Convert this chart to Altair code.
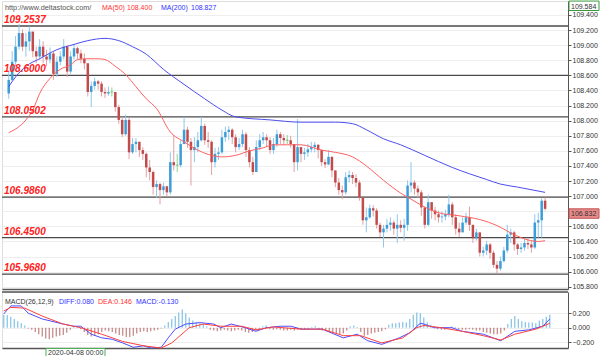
import altair as alt
import pandas as pd

# ---------------- data ----------------
first_open = 108.36
close = [
    108.54, 108.78, 108.98, 109.16, 108.98, 109.05, 109.18, 108.92, 108.85, 108.98,
    108.85, 108.81, 108.89, 108.62, 108.78, 108.85, 108.98, 108.65, 108.85, 108.96,
    108.89, 108.82, 108.76, 108.38, 108.46, 108.52, 108.49, 108.38, 108.36, 108.38,
    108.38, 108.18, 108.01, 107.82, 108.01, 107.58, 107.69, 107.72, 107.61, 107.56,
    107.38, 107.32, 107.12, 107.16, 107.08, 107.13, 107.05, 107.45, 107.41, 107.41,
    107.69, 107.88, 107.72, 107.61, 107.65, 107.74, 107.93, 107.74, 107.72, 107.45,
    107.56, 107.58, 107.78, 107.85, 107.88, 107.78, 107.65, 107.69, 107.82, 107.61,
    107.45, 107.32, 107.65, 107.74, 107.78, 107.74, 107.61, 107.69, 107.82, 107.77,
    107.74, 107.74, 107.69, 107.45, 107.65, 107.56, 107.58, 107.62, 107.65, 107.68,
    107.61, 107.45, 107.42, 107.52, 107.34, 107.18, 107.08, 107.05, 107.25, 107.28,
    107.24, 107.18, 106.98, 106.68, 106.72, 106.84, 106.81, 106.62, 106.52, 106.57,
    106.62, 106.65, 106.57, 106.62, 106.58, 106.62, 107.14, 107.18, 107.10, 107.05,
    106.85, 106.62, 106.92, 106.81, 106.76, 106.72, 106.73, 106.76, 106.89, 106.72,
    106.57, 106.52, 106.65, 106.72, 106.62, 106.44, 106.52, 106.25, 106.28, 106.36,
    106.25, 106.09, 106.04, 106.14, 106.28, 106.49, 106.52, 106.36, 106.30, 106.32,
    106.38, 106.36, 106.32, 106.65, 106.68, 106.94, 106.832]
high = [
    108.65, 108.92, 109.12, 109.28, 109.21, 109.16, 109.25, 109.16, 108.98, 109.08,
    109.05, 108.94, 108.97, 108.92, 108.85, 108.92, 109.08, 109.00, 108.92, 109.01,
    108.98, 108.94, 108.89, 108.76, 108.52, 108.57, 108.54, 108.52, 108.44, 108.45,
    108.44, 108.36, 108.21, 108.05, 108.08, 108.04, 107.77, 107.77, 107.72, 107.65,
    107.58, 107.48, 107.34, 107.21, 107.18, 107.18, 107.14, 107.58, 107.81, 107.56,
    107.74, 108.05, 107.92, 107.77, 107.78, 107.85, 108.05, 107.96, 107.85, 107.74,
    107.64, 107.65, 107.88, 107.92, 107.93, 107.90, 107.82, 107.77, 107.88, 107.85,
    107.65, 107.52, 107.74, 107.82, 107.85, 107.82, 107.78, 107.77, 107.88, 107.85,
    107.82, 107.81, 107.80, 107.69, 108.02, 107.65, 107.64, 107.69, 107.72, 107.72,
    107.69, 107.62, 107.49, 107.61, 107.53, 107.34, 107.24, 107.14, 107.32, 107.34,
    107.32, 107.29, 107.21, 106.98, 106.85, 106.89, 106.88, 106.84, 106.65, 106.62,
    106.70, 106.72, 106.68, 106.76, 106.68, 106.70, 107.21, 107.45, 107.21, 107.14,
    107.08, 106.86, 107.02, 106.92, 106.86, 106.81, 106.80, 106.82, 107.02, 106.92,
    106.76, 106.65, 106.72, 106.78, 106.86, 106.62, 106.57, 106.52, 106.33, 106.41,
    106.38, 106.28, 106.14, 106.20, 106.33, 106.62, 106.57, 106.54, 106.38, 106.38,
    106.44, 106.44, 106.41, 106.76, 106.78, 106.97, 106.98]
low = [
    108.29, 108.52, 108.72, 108.94, 108.92, 108.85, 108.92, 108.84, 108.76, 108.81,
    108.76, 108.72, 108.76, 108.54, 108.58, 108.73, 108.81, 108.58, 108.62, 108.81,
    108.81, 108.76, 108.68, 108.32, 108.18, 108.41, 108.41, 108.32, 108.30, 108.33,
    108.32, 108.12, 107.96, 107.78, 107.80, 107.49, 107.56, 107.58, 107.52, 107.48,
    107.25, 107.21, 107.02, 106.98, 106.89, 107.02, 107.00, 107.02, 107.34, 107.32,
    107.38, 107.69, 107.64, 107.14, 107.45, 107.58, 107.72, 107.68, 107.64, 107.28,
    107.38, 107.48, 107.56, 107.72, 107.74, 107.69, 107.58, 107.61, 107.65, 107.52,
    107.38, 107.28, 107.32, 107.61, 107.69, 107.65, 107.56, 107.56, 107.65, 107.69,
    107.68, 107.69, 107.64, 107.32, 107.34, 107.45, 107.48, 107.52, 107.58, 107.58,
    107.50, 107.40, 107.37, 107.41, 107.25, 107.12, 107.02, 106.96, 107.02, 107.18,
    107.16, 107.12, 106.94, 106.62, 106.52, 106.70, 106.73, 106.57, 106.46, 106.32,
    106.52, 106.54, 106.49, 106.38, 106.52, 106.41, 106.54, 107.05, 107.02, 106.98,
    106.74, 106.57, 106.60, 106.70, 106.68, 106.65, 106.65, 106.68, 106.72, 106.62,
    106.49, 106.46, 106.54, 106.62, 106.54, 106.38, 106.41, 106.20, 106.20, 106.22,
    106.17, 106.05, 105.98, 106.01, 106.12, 106.25, 106.38, 106.28, 106.22, 106.25,
    106.28, 106.30, 106.25, 106.30, 106.45, 106.45, 106.81]

ma50_i = [0, 5, 7, 9, 12, 15, 18, 20, 23, 26, 28, 31, 34, 37, 40, 43, 47, 51, 55, 59,
          62, 66, 70, 74, 77, 81, 85, 91, 95, 100, 104, 109, 114, 117, 120, 125, 131,
          137, 142, 147, 151, 154, 156]
ma50_v = [107.84, 108.01, 108.14, 108.36, 108.56, 108.68, 108.74, 108.81, 108.82, 108.82,
          108.81, 108.72, 108.61, 108.45, 108.29, 108.16, 107.85, 107.72, 107.61, 107.54,
          107.52, 107.54, 107.60, 107.64, 107.68, 107.68, 107.68, 107.61, 107.58, 107.52,
          107.40, 107.21, 107.04, 106.96, 106.88, 106.78, 106.74, 106.69, 106.61, 106.49,
          106.42, 106.40, 106.41]
ma200_i = [0, 2, 5, 9, 14, 19, 23, 28, 32, 36, 40, 45, 51, 57, 62, 66, 76, 85, 95, 100,
           104, 109, 114, 121, 129, 139, 143, 148, 156]
ma200_v = [108.45, 108.58, 108.72, 108.82, 108.94, 109.01, 109.06, 109.09, 109.06, 108.98,
           108.88, 108.68, 108.48, 108.29, 108.14, 108.05, 108.01, 107.98, 107.98, 107.96,
           107.88, 107.76, 107.68, 107.54, 107.38, 107.22, 107.16, 107.12, 107.05]

levels = [109.2537, 108.6000, 108.0502, 106.9860, 106.4500, 105.9680]
level_labels = ["109.2537", "108.6000", "108.0502", "106.9860", "106.4500", "105.9680"]
y_ticks = [105.8, 106.0, 106.2, 106.4, 106.6, 106.8, 107.0, 107.2, 107.4, 107.6,
           107.8, 108.0, 108.2, 108.4, 108.6, 108.8, 109.0, 109.2, 109.4]
last_price = 106.832
top_price = 109.584

hist = [0.18, 0.17, 0.15, 0.12, 0.09, 0.06, 0.03, -0.01, -0.03, -0.06,
        -0.09, -0.12, -0.15, -0.16, -0.14, -0.12, -0.11, -0.10, -0.07, -0.03,
        0.02, 0.02, -0.02, -0.06, -0.10, -0.12, -0.11, -0.09, -0.06, -0.04,
        -0.05, -0.06, -0.08, -0.10, -0.11, -0.13, -0.13, -0.11, -0.08, -0.06,
        -0.05, -0.06, -0.05, -0.04, -0.03, -0.01, 0.03, 0.08, 0.12, 0.16,
        0.21, 0.25, 0.20, 0.14, 0.10, 0.07, 0.06, 0.05, 0.02, -0.03,
        -0.04, -0.05, -0.04, -0.03, -0.04, -0.05, -0.04, -0.03, -0.04, -0.06,
        -0.07, -0.06, -0.04, -0.02, 0.02, 0.03, -0.02, -0.03, -0.02, -0.03,
        -0.04, -0.04, -0.03, -0.04, -0.03, -0.03, -0.02, -0.02, 0.01, 0.02,
        -0.02, -0.04, -0.05, -0.06, -0.07, -0.08, -0.09, -0.08, -0.04, 0.02,
        0.03, 0.01, -0.06, -0.11, -0.10, -0.08, -0.07, -0.06, -0.05, -0.02,
        0.04, 0.06, 0.06, 0.07, 0.08, 0.07, 0.12, 0.18, 0.21, 0.20,
        0.14, 0.07, 0.04, 0.01, -0.02, -0.03, -0.03, -0.01, 0.02, 0.01,
        -0.02, -0.03, -0.03, -0.02, -0.03, -0.04, -0.04, -0.06, -0.07, -0.08,
        -0.09, -0.09, -0.08, -0.04, 0.05, 0.12, 0.16, 0.12, 0.09, 0.08,
        0.07, 0.07, 0.06, 0.10, 0.12, 0.15, 0.18]
diff_i = [0, 2, 5, 7, 11, 17, 20, 22, 25, 28, 31, 34, 37, 40, 42, 45, 47, 49, 52, 56,
          60, 62, 65, 69, 72, 75, 79, 82, 85, 91, 97, 101, 104, 108, 113, 116, 119, 120,
          123, 128, 131, 137, 142, 146, 150, 154, 156]
diff_v = [0.19, 0.30, 0.30, 0.20, 0.12, 0.05, 0.02, 0.02, -0.09, -0.14,
          -0.16, -0.21, -0.27, -0.25, -0.28, -0.27, -0.14, -0.02, 0.05, 0.07,
          0.05, 0.0, 0.05, 0.0, -0.05, 0.0, 0.02, 0.02, -0.02, -0.02,
          -0.14, -0.09, -0.18, -0.23, -0.14, -0.07, 0.06, 0.05, 0.0, 0.0,
          -0.05, -0.09, -0.18, -0.05, -0.03, 0.02, 0.12]
dea_i = [0, 2, 6, 11, 17, 22, 28, 34, 40, 45, 48, 53, 57, 62, 68, 72, 77, 85, 91, 97,
         102, 108, 114, 118, 120, 125, 131, 137, 142, 146, 152, 156]
dea_v = [0.23, 0.28, 0.27, 0.16, 0.05, 0.0, -0.09, -0.19, -0.25, -0.28,
         -0.21, 0.0, 0.05, 0.02, 0.02, -0.03, 0.01, -0.02, -0.02, -0.11,
         -0.11, -0.21, -0.14, 0.0, 0.03, 0.0, -0.05, -0.11, -0.17, -0.09,
         -0.02, 0.06]
macd_ticks = [-0.2, 0.0, 0.2]

# ---------------- tables ----------------
n = len(close)
opens = [first_open] + close[:-1]
dirs = ["up" if c > o else ("down" if c < o else "flat") for o, c in zip(opens, close)]
candles = pd.DataFrame({"i": list(range(n)), "open": opens, "close": close,
                        "high": high, "low": low, "dir": dirs})
ma50 = pd.DataFrame({"i": ma50_i, "v": ma50_v})
ma200 = pd.DataFrame({"i": ma200_i, "v": ma200_v})
lv = pd.DataFrame({"level": levels, "label": level_labels})
hdf = pd.DataFrame({"i": list(range(n)), "h": hist, "zero": [0.0] * n})
diff_df = pd.DataFrame({"i": diff_i, "v": diff_v})
dea_df = pd.DataFrame({"i": dea_i, "v": dea_v})

W, H, HM = 566, 288, 56
FONT = "Liberation Sans"
xs = alt.Scale(domain=[-0.5, 161.2], nice=False, zero=False)
ys = alt.Scale(domain=[105.77, 109.585], nice=False, zero=False)
ms = alt.Scale(domain=[-0.28, 0.492], nice=False, zero=False)

xaxis = alt.Axis(labels=False, ticks=False, grid=False, title=None,
                 domainColor="#555", domainWidth=1.5)
# the 106.800 label sits under the current-price box in the reference
yaxis = alt.Axis(orient="right", values=y_ticks, format=".3f", title=None, labelFontSize=7,
                 labelColor="#333", tickSize=3, tickColor="#555", domainColor="#555",
                 grid=True, gridColor="#eeeeee", labelPadding=1, labelFont=FONT,
                 labelExpr="abs(datum.value - 106.8) < 0.001 ? '' : format(datum.value, '.3f')")
maxis = alt.Axis(orient="right", values=macd_ticks, format=".3f", title=None, labelFontSize=7,
                 labelColor="#333", tickSize=3, tickColor="#555", domainColor="#555",
                 grid=True, gridColor="#eeeeee", labelPadding=1, labelFont=FONT)


def X():
    return alt.X("i:Q", scale=xs, axis=xaxis)


def Y(field):
    return alt.Y(field, type="quantitative", scale=ys, axis=yaxis)


def M(field):
    return alt.Y(field, type="quantitative", scale=ms, axis=maxis)


COL = {"up": ("#3d9dd8", "#8ec8ee"), "down": ("#c24a4a", "#e3a0a0"), "flat": ("#55b055", "#8fd48f")}

# ---------------- main panel ----------------
layers = []
layers.append(alt.Chart(lv).mark_rule(color="#4a4a4a", strokeWidth=1.3).encode(y=Y("level")))
for d in ["up", "down", "flat"]:
    layers.append(alt.Chart(candles).transform_filter(f"datum.dir == '{d}'").mark_rule(
        strokeWidth=1, color=COL[d][1]).encode(x=X(), y=Y("low"), y2="high"))
for d in ["up", "down"]:
    layers.append(alt.Chart(candles).transform_filter(f"datum.dir == '{d}'").mark_bar(
        size=2.5, color=COL[d][0]).encode(x=X(), y=Y("open"), y2="close"))
layers.append(alt.Chart(candles).transform_filter("datum.dir == 'flat'").mark_tick(
    thickness=1, size=3, orient="horizontal", color=COL["flat"][0]).encode(x=X(), y=Y("close")))
layers.append(alt.Chart(ma50).mark_line(color="#ff6060", strokeWidth=1, interpolate="monotone").encode(
    x=X(), y=Y("v")))
layers.append(alt.Chart(ma200).mark_line(color="#4c4cf0", strokeWidth=1, interpolate="monotone").encode(
    x=X(), y=Y("v")))
layers.append(alt.Chart(lv).mark_text(
    align="left", baseline="alphabetic", dy=-3, fontSize=10, fontStyle="italic",
    fontWeight="bold", color="#ff2020", font=FONT).encode(
    x=alt.value(2), y=Y("level"), text="label:N"))


def label(txt, px, py, color, size=7):
    return alt.Chart(pd.DataFrame({"t": [txt]})).mark_text(
        align="left", baseline="alphabetic", fontSize=size, color=color, font=FONT).encode(
        x=alt.value(px), y=alt.value(py), text="t:N")


layers += [label("http://www.deltastock.com/", 3, 9, "#555555", 7.3),
           label("MA(50)", 100, 9, "#ff3030"), label("108.400", 125, 9, "#ff3030"),
           label("MA(200)", 159, 9, "#3030ff"), label("108.827", 189, 9, "#3030ff")]

for p, t, fill, stroke in [(top_price, "109.584", "#ffffff", "#3a9a3a"),
                           (last_price, "106.832", "#e98a8a", "#c05050")]:
    bdf = pd.DataFrame({"p": [p], "p2": [p - 0.125], "t": [t]})
    layers.append(alt.Chart(bdf).mark_rect(fill=fill, stroke=stroke, strokeWidth=1).encode(
        x=alt.value(567), x2=alt.value(597), y=Y("p"), y2="p2"))
    layers.append(alt.Chart(bdf).mark_text(align="left", baseline="top", dy=1.5, fontSize=7,
                                           color="#333", font=FONT).encode(
        x=alt.value(569), y=Y("p"), text="t:N"))

main = alt.layer(*layers).properties(width=W, height=H)

# ---------------- MACD panel ----------------
mlayers = []
mlayers.append(alt.Chart(hdf).transform_filter("datum.h >= 0").mark_rule(
    strokeWidth=1.2, color="#80c0e6").encode(x=X(), y=M("h"), y2="zero"))
mlayers.append(alt.Chart(hdf).transform_filter("datum.h < 0").mark_rule(
    strokeWidth=1.2, color="#c48080").encode(x=X(), y=M("h"), y2="zero"))
mlayers.append(alt.Chart(diff_df).mark_line(color="#4c4cff", strokeWidth=1).encode(x=X(), y=M("v")))
mlayers.append(alt.Chart(dea_df).mark_line(color="#ff4040", strokeWidth=1).encode(x=X(), y=M("v")))
mlayers.append(alt.Chart(pd.DataFrame({"a": [0]})).mark_rule(color="#555", strokeWidth=1.5).encode(
    x=alt.value(0), x2=alt.value(W), y=alt.value(0)))
mlayers += [label("MACD(26,12,9)", 3, 12, "#333333"), label("DIFF:0.080", 57, 12, "#3030ff"),
            label("DEA:0.146", 96, 12, "#ff3030"), label("MACD:-0.130", 134, 12, "#3030ff")]
mlayers.append(alt.Chart(pd.DataFrame({"a": [0]})).mark_rect(
    fill="#ffffff", stroke="#4caf50", strokeWidth=1).encode(
    x=alt.value(44), x2=alt.value(103), y=alt.value(56.5), y2=alt.value(65)))
mlayers.append(label("2020-04-08 00:00", 46, 63, "#333333"))

macd = alt.layer(*mlayers).properties(width=W, height=HM)

chart = alt.vconcat(main, macd, spacing=3, bounds="flush").properties(
    padding=0, background="white").configure_view(stroke=None).configure(font=FONT)

chart.save("out.html", embed_options={"renderer": "svg", "actions": False})
